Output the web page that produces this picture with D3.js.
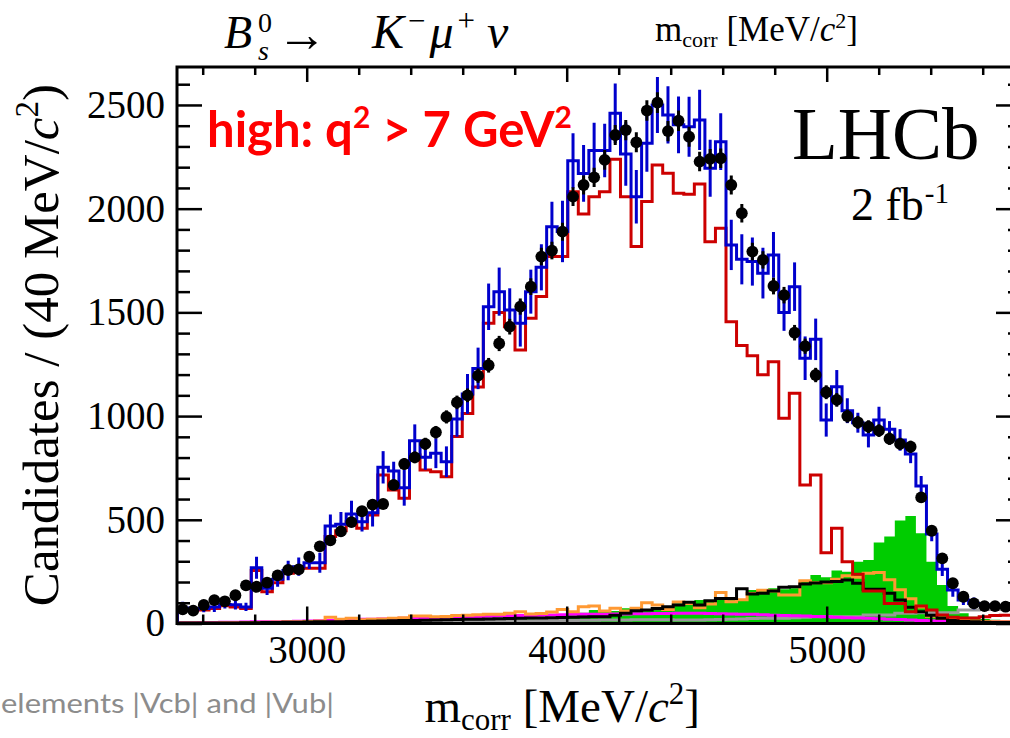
<!DOCTYPE html>
<html>
<head>
<meta charset="utf-8">
<script src="https://cdn.jsdelivr.net/npm/d3@7"></script>
<style>
  html, body { margin: 0; padding: 0; background: #fff; }
  svg { display: block; }
</style>
</head>
<body>
<div id="chart"></div>
<script>
// m_corr histogram, 80 bins of 40 MeV starting at 2500
const yTicks = [0, 500, 1000, 1500, 2000, 2500];
const xTicks = [3000, 4000, 5000];

const dataCounts = [68,62,89,113,107,136,184,177,197,232,
  258,261,322,372,401,444,489,541,573,576,
  668,769,801,866,922,996,1066,1100,1195,1245,
  1350,1431,1528,1624,1769,1798,1889,2058,2114,2151,
  2235,2355,2379,2320,2473,2511,2374,2424,2347,2227,
  2240,2243,2114,1978,1793,1753,1627,1583,1402,1337,
  1198,1115,1078,1000,970,949,930,891,866,852,
  608,447,314,194,129,97,84,84,81,80];

const totalFit = [75,70,72,80,92,90,80,269,170,213,
  255,274,293,293,470,478,528,491,534,753,
  735,655,881,801,821,780,986,1107,1230,1527,
  1600,1512,1447,1600,1717,1913,1890,2231,2170,2280,
  2280,2460,2264,2058,2315,2500,2452,2404,2395,2428,
  2195,2323,1825,1756,1745,1689,1777,1499,1624,1279,
  1370,981,1142,1026,968,909,981,936,885,817,
  663,432,261,161,113,97,89,84,81,78];

const totalFitErr = [30,18,18,24,20,22,20,53,32,36,
  47,44,30,48,56,60,64,48,66,78,
  45,87,79,60,72,74,85,96,100,112,
  116,104,112,106,111,120,148,132,137,134,
  129,143,153,129,137,135,138,137,145,145,
  137,137,121,121,116,122,110,88,117,105,
  100,80,80,60,48,60,64,40,52,44,
  48,36,32,32,24,28,20,20,20,20];

const signalRed = [70,65,65,72,85,80,72,255,153,197,
  242,266,266,266,419,447,491,459,523,716,
  644,604,812,740,732,708,901,1013,1140,1447,
  1499,1431,1319,1472,1576,1769,1769,2082,1974,2058,
  2082,2238,2058,1817,2034,2211,2171,2074,2070,2119,
  1841,1905,1455,1340,1291,1199,1262,989,1110,668,
  716,341,459,298,237,157,157,97,97,57,
  84,65,41,30,27,27,33,38,40,40];

const bkgGreen = [0,0,0,0,0,0,0,0,0,0,
  0,0,2,2,3,4,5,6,6,8,
  9,10,12,13,15,16,18,19,20,22,
  24,25,26,28,30,31,33,38,52,65,
  57,60,73,62,65,70,81,97,95,113,
  110,113,121,118,161,161,170,165,170,210,
  234,223,255,250,298,306,390,419,496,518,
  435,298,186,84,49,33,22,18,15,12];

const bkgOrange = [2,2,3,3,4,4,5,5,6,7,
  8,9,10,12,30,20,25,18,20,22,
  25,28,36,36,32,34,38,40,42,45,
  44,50,57,46,48,55,68,57,81,84,
  60,73,60,73,100,89,68,104,97,76,
  94,149,105,115,145,160,157,137,137,206,
  197,197,213,230,223,242,246,211,163,119,
  80,35,25,20,15,12,10,8,8,8];

const bkgBlack = [2,2,2,3,3,3,4,4,5,5,
  6,6,7,8,8,9,10,10,11,12,
  13,14,15,16,17,18,19,20,21,22,
  23,24,25,26,27,28,29,30,31,32,
  33,40,50,62,65,72,81,89,102,89,
  110,121,121,167,142,146,157,175,177,190,
  195,200,202,210,194,165,165,146,113,78,
  57,40,25,15,10,8,6,5,5,5];

const bkgMagenta = [4,4,5,5,6,6,7,8,8,9,
  10,11,12,13,14,15,17,20,21,22,
  24,25,26,27,28,30,31,32,34,35,
  36,37,38,39,40,41,42,44,44,45,
  45,46,46,47,47,48,48,49,49,49,
  48,47,46,45,44,42,40,38,37,36,
  34,32,30,28,26,25,23,21,19,17,
  15,13,12,11,10,9,9,8,8,8];

const bkgGray = [2,2,2,3,3,3,3,4,4,4,
  5,5,5,5,6,6,6,7,7,7,
  8,8,8,9,9,9,10,10,11,11,
  12,12,13,13,14,14,15,15,16,16,
  17,17,17,18,18,18,18,17,17,17,
  18,19,20,22,24,25,25,25,28,30,
  33,34,33,33,33,41,41,41,49,49,
  52,52,52,52,65,65,68,68,68,68];

const width = 1010;
const height = 738;
const frame = { left: 177, right: 1021, top: 67, bottom: 623.5 };
const nBins = dataCounts.length;

const svg = d3.select("#chart")
  .append("svg")
  .attr("width", width)
  .attr("height", height)
  .style("font-family", "'Liberation Serif', 'Times New Roman', serif");

// axis scale (tick positions) and bin scale (histogram bins as laid out in the figure)
const x = d3.scaleLinear().domain([2500, 5700]).range([176.7, 1008.7]);
const xBin = d3.scaleLinear().domain([0, nBins]).range([177.4, 1021.4]);
const y = d3.scaleLinear().domain([0, 2683]).range([frame.bottom, frame.top]);

svg.append("clipPath").attr("id", "plotclip")
  .append("rect")
  .attr("x", frame.left).attr("y", frame.top)
  .attr("width", frame.right - frame.left)
  .attr("height", frame.bottom - frame.top);

const plot = svg.append("g").attr("clip-path", "url(#plotclip)");

function stepPoints(values) {
  const pts = [[xBin(0), y(0)]];
  values.forEach((v, i) => {
    pts.push([xBin(i), y(v)]);
    pts.push([xBin(i + 1), y(v)]);
  });
  return pts;
}

const line = d3.line();

// filled green component
const area = d3.area()
  .curve(d3.curveStepAfter)
  .x(d => xBin(d.i))
  .y0(y(0))
  .y1(d => y(d.v));
const greenPts = bkgGreen.map((v, i) => ({ i, v }));
greenPts.push({ i: nBins, v: bkgGreen[nBins - 1] });
plot.append("path")
  .attr("d", area(greenPts))
  .attr("fill", "#00cc00");

const stepSeries = [
  { values: bkgGray, color: "#999999" },
  { values: bkgMagenta, color: "#ff00ff" },
  { values: bkgOrange, color: "#ff9933" },
  { values: bkgBlack, color: "#000000" },
  { values: signalRed, color: "#cc0000" },
  { values: totalFit, color: "#0000cc" }
];

stepSeries.forEach(s => {
  plot.append("path")
    .attr("d", line(stepPoints(s.values)))
    .attr("fill", "none")
    .attr("stroke", s.color)
    .attr("stroke-width", 3)
    .attr("stroke-linejoin", "miter");
});

// fit uncertainty bars
plot.append("g")
  .selectAll("line")
  .data(totalFit)
  .enter().append("line")
  .attr("x1", (d, i) => xBin(i + 0.5))
  .attr("x2", (d, i) => xBin(i + 0.5))
  .attr("y1", (d, i) => y(d - totalFitErr[i]))
  .attr("y2", (d, i) => y(d + totalFitErr[i]))
  .attr("stroke", "#0000cc")
  .attr("stroke-width", 3);

// data points with Poisson errors
const pts = plot.append("g");
pts.selectAll("line")
  .data(dataCounts)
  .enter().append("line")
  .attr("x1", (d, i) => xBin(i + 0.5))
  .attr("x2", (d, i) => xBin(i + 0.5))
  .attr("y1", d => y(d - Math.sqrt(d)))
  .attr("y2", d => y(d + Math.sqrt(d)))
  .attr("stroke", "#000")
  .attr("stroke-width", 3);
pts.selectAll("path")
  .data(dataCounts)
  .enter().append("path")
  .attr("transform", (d, i) => `translate(${xBin(i + 0.5)},${y(d)})`)
  .attr("d", d3.symbol(d3.symbolCircle, 110))
  .attr("fill", "#000");

// axes: ticks drawn inward, ROOT style
const minorY = d3.range(100, 2700, 100).filter(v => v % 500 !== 0);
const minorX = d3.range(2600, 5800, 200).filter(v => v % 1000 !== 0);

function styleAxis(g) {
  g.select(".domain").remove();
  g.selectAll(".tick line").attr("stroke", "#000").attr("stroke-width", 2.5);
}
function styleLabels(g) {
  g.selectAll("text")
    .attr("font-size", 39)
    .attr("font-family", "'Liberation Serif', serif")
    .attr("fill", "#000");
}

svg.append("g")
  .attr("transform", `translate(${frame.left},0)`)
  .call(d3.axisLeft(y).tickValues(yTicks).tickSizeInner(-25).tickSizeOuter(0).tickPadding(12).tickFormat(d3.format("d")))
  .call(styleAxis)
  .call(styleLabels);
svg.append("g")
  .attr("transform", `translate(${frame.left},0)`)
  .call(d3.axisLeft(y).tickValues(minorY).tickSizeInner(-13).tickSizeOuter(0).tickFormat(""))
  .call(styleAxis);

svg.append("g")
  .attr("transform", `translate(${frame.right},0)`)
  .call(d3.axisRight(y).tickValues(yTicks).tickSizeInner(-25).tickSizeOuter(0).tickFormat(""))
  .call(styleAxis);
svg.append("g")
  .attr("transform", `translate(${frame.right},0)`)
  .call(d3.axisRight(y).tickValues(minorY).tickSizeInner(-13).tickSizeOuter(0).tickFormat(""))
  .call(styleAxis);

svg.append("g")
  .attr("transform", `translate(0,${frame.bottom})`)
  .call(d3.axisBottom(x).tickValues(xTicks).tickSizeInner(-17).tickSizeOuter(0).tickPadding(12).tickFormat(d3.format("d")))
  .call(styleAxis)
  .call(styleLabels);
svg.append("g")
  .attr("transform", `translate(0,${frame.bottom})`)
  .call(d3.axisBottom(x).tickValues(minorX).tickSizeInner(-9).tickSizeOuter(0).tickFormat(""))
  .call(styleAxis);

svg.append("g")
  .attr("transform", `translate(0,${frame.top})`)
  .call(d3.axisTop(x).tickValues(xTicks).tickSizeInner(-15).tickSizeOuter(0).tickFormat(""))
  .call(styleAxis);
svg.append("g")
  .attr("transform", `translate(0,${frame.top})`)
  .call(d3.axisTop(x).tickValues(minorX).tickSizeInner(-8).tickSizeOuter(0).tickFormat(""))
  .call(styleAxis);

// frame
svg.append("rect")
  .attr("x", frame.left).attr("y", frame.top)
  .attr("width", frame.right - frame.left)
  .attr("height", frame.bottom - frame.top)
  .attr("fill", "none")
  .attr("stroke", "#000")
  .attr("stroke-width", 3);

// axis titles
const xt = svg.append("text")
  .attr("x", 700).attr("y", 722)
  .attr("text-anchor", "end")
  .attr("font-size", 47);
xt.append("tspan").text("m");
xt.append("tspan").attr("font-size", 31).attr("dy", 8).text("corr");
xt.append("tspan").attr("dy", -8).text(" [MeV/");
xt.append("tspan").attr("font-style", "italic").text("c");
xt.append("tspan").attr("font-size", 31).attr("dy", -18).text("2");
xt.append("tspan").attr("dy", 18).text("]");

const yt = svg.append("text")
  .attr("transform", "rotate(-90)")
  .attr("x", -84).attr("y", 58)
  .attr("text-anchor", "end")
  .attr("font-size", 51);
yt.append("tspan").text("Candidates / (40 MeV/");
yt.append("tspan").attr("font-style", "italic").text("c");
yt.append("tspan").attr("font-size", 33).attr("dy", -20).text("2");
yt.append("tspan").attr("dy", 20).text(")");

// top labels
const mt = svg.append("text")
  .attr("x", 655).attr("y", 41)
  .attr("font-size", 35);
mt.append("tspan").text("m");
mt.append("tspan").attr("font-size", 22).attr("dy", 6).text("corr");
mt.append("tspan").attr("dy", -6).text(" [MeV/");
mt.append("tspan").attr("font-style", "italic").text("c");
mt.append("tspan").attr("font-size", 22).attr("dy", -13).text("2");
mt.append("tspan").attr("dy", 13).text("]");

const title = svg.append("g")
  .attr("font-family", "'Liberation Serif', serif")
  .attr("font-style", "italic");
title.append("text").attr("x", 224).attr("y", 48).attr("font-size", 46).text("B");
title.append("text").attr("x", 258).attr("y", 32).attr("font-size", 28).attr("font-style", "normal").text("0");
title.append("text").attr("x", 258).attr("y", 60).attr("font-size", 28).text("s");
title.append("text").attr("x", 277).attr("y", 51).attr("font-size", 50).attr("font-style", "normal").text("\u2192");
const decay = title.append("text").attr("x", 372).attr("y", 48).attr("font-size", 48);
decay.append("tspan").text("K");
decay.append("tspan").attr("font-size", 31).attr("dx", 4).attr("dy", -17).attr("font-style", "normal").text("\u2212");
decay.append("tspan").attr("dx", 4).attr("dy", 17).text("\u03bc");
decay.append("tspan").attr("font-size", 31).attr("dx", 4).attr("dy", -17).attr("font-style", "normal").text("+");
decay.append("tspan").attr("dx", 12).attr("dy", 17).text("\u03bd");

// LHCb label
svg.append("text")
  .attr("x", 792).attr("y", 159)
  .attr("font-size", 75)
  .text("LHCb");
const lumi = svg.append("text")
  .attr("x", 851).attr("y", 220)
  .attr("font-size", 46);
lumi.append("tspan").text("2 fb");
lumi.append("tspan").attr("font-size", 29).attr("dx", 1).attr("dy", -17).text("-1");

// selection label
const sel = svg.append("text")
  .attr("x", 207).attr("y", 147)
  .attr("font-family", "Lato, 'Open Sans', sans-serif")
  .attr("font-weight", "bold")
  .attr("font-size", 49)
  .attr("fill", "#ff0000");
sel.append("tspan").text("high: q");
sel.append("tspan").attr("font-size", 30).attr("dy", -19).text("2");
sel.append("tspan").attr("dy", 19).text(" > 7 GeV");
sel.append("tspan").attr("font-size", 30).attr("dy", -19).text("2");

// slide footer fragment
svg.append("text")
  .attr("x", 1).attr("y", 713)
  .attr("font-family", "Lato, 'Open Sans', sans-serif")
  .attr("font-size", 27)
  .attr("textLength", 333)
  .attr("lengthAdjust", "spacingAndGlyphs")
  .attr("fill", "#8c8c8c")
  .text("elements |Vcb| and |Vub|");
</script>
</body>
</html>
